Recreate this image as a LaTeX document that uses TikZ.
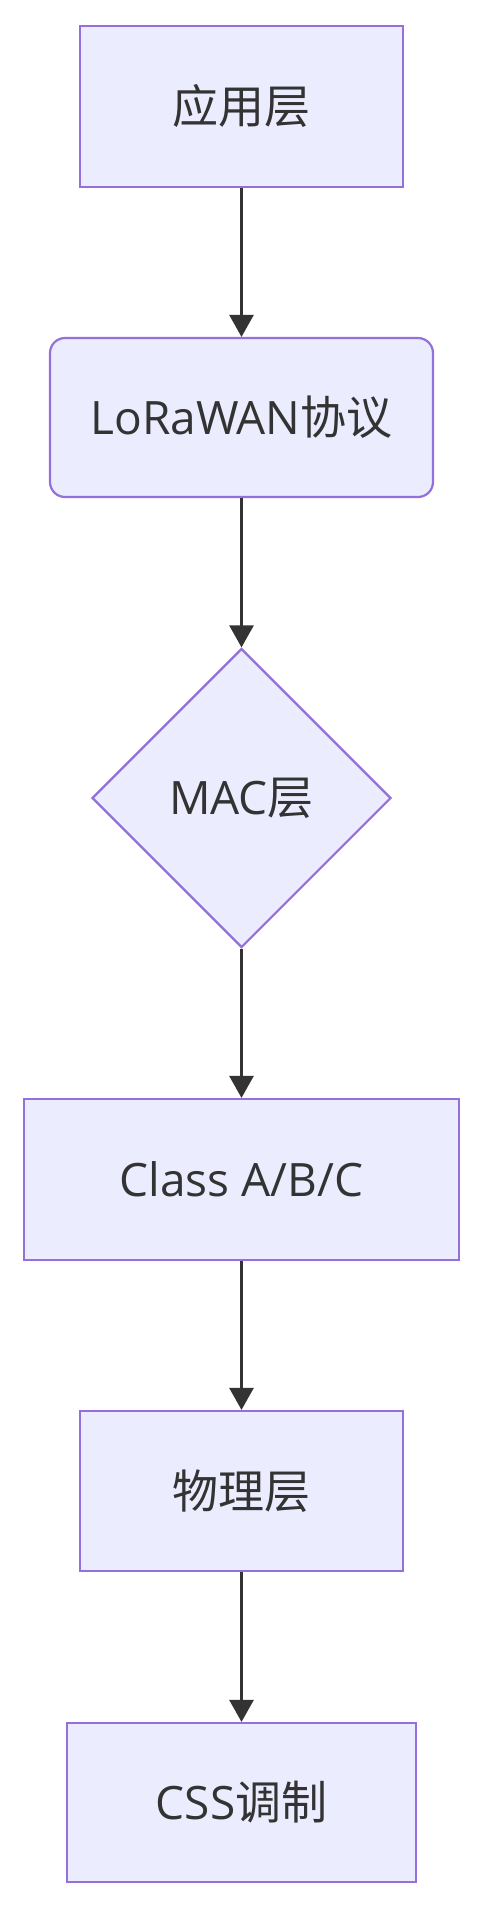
\documentclass[tikz,border=0pt]{standalone}
\usepackage{fontspec}
\setmainfont{Open Sans}
\newfontfamily\cjk{Noto Sans CJK SC}
\usetikzlibrary{shapes.geometric,arrows.meta}
\definecolor{nodefill}{HTML}{ECECFF}
\definecolor{nodeline}{HTML}{9370DB}
\definecolor{ink}{HTML}{333333}
\begin{document}
\begin{tikzpicture}[x=1pt,y=-1pt,
  base/.style={fill=nodefill,draw=nodeline,line width=2.2pt,text=ink,
    font=\fontsize{46}{55}\selectfont,inner sep=0pt},
  rectbox/.style={base,rectangle},
  roundbox/.style={base,rectangle,rounded corners=15pt},
  decision/.style={base,diamond,aspect=1},
  link/.style={-{Triangle[length=22pt,width=24pt]},draw=ink,line width=2.6pt}]
\fill[white] (0,0) rectangle (483,1909);
\useasboundingbox (0,0) rectangle (483,1909);
\node[rectbox,minimum width=323pt,minimum height=161pt] (app) at (241.5,106.5) {{\cjk 应用层}};
\node[roundbox,minimum width=383pt,minimum height=159pt] (lora) at (241.5,417.5) {LoRaWAN{\cjk 协议}};
\node[decision,minimum width=299pt,minimum height=299pt] (mac) at (241.5,798) {MAC{\cjk 层}};
\node[rectbox,minimum width=435pt,minimum height=161pt] (cls) at (241.5,1179.5) {Class A/B/C};
\node[rectbox,minimum width=323pt,minimum height=160pt] (phy) at (241.5,1491) {{\cjk 物理层}};
\node[rectbox,minimum width=349pt,minimum height=159pt] (css) at (241.5,1802.5) {CSS{\cjk 调制}};
\draw[link] (app) -- (lora);
\draw[link] (lora) -- (mac);
\draw[link] (mac) -- (cls);
\draw[link] (cls) -- (phy);
\draw[link] (phy) -- (css);
\end{tikzpicture}
\end{document}
